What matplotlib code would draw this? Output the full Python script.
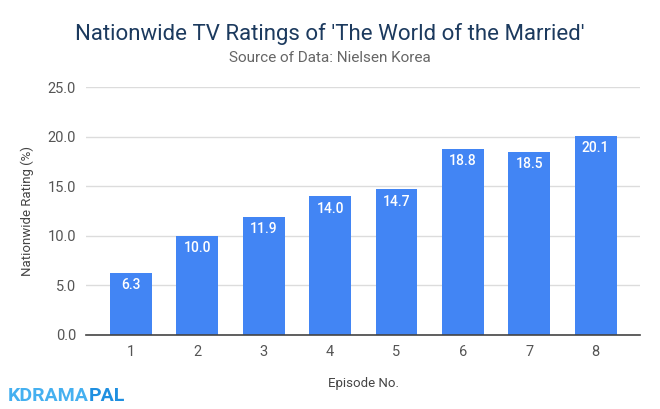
import matplotlib
matplotlib.use("Agg")
import matplotlib.pyplot as plt

plt.rcParams['font.family'] = ['Roboto', 'DejaVu Sans']

episodes = ['1', '2', '3', '4', '5', '6', '7', '8']
ratings = [6.3, 10.0, 11.9, 14.0, 14.7, 18.8, 18.5, 20.1]
yticks = [0, 5, 10, 15, 20, 25]

fig = plt.figure(figsize=(6.6, 4.09), dpi=100)
ax = fig.add_axes([0.130, 0.181, 0.840, 0.606])

x = list(range(len(episodes)))
bars = ax.bar(x, ratings, width=0.63, color='#4285f4', zorder=3)

for rect, val in zip(bars, ratings):
    ax.text(rect.get_x() + rect.get_width() / 2, val - 0.55, f"{val:.1f}",
            ha='center', va='top', color='white', fontsize=10, fontweight='medium', zorder=4)

ax.set_xlim(-0.68, 7.67)
ax.set_ylim(0, 25)
ax.set_yticks(yticks)
ax.set_yticklabels([f"{t:.1f}" for t in yticks])
ax.set_xticks(x)
ax.set_xticklabels(episodes)
ax.grid(axis='y', color='#dcdcdc', linewidth=1, zorder=0)
for s in ['top', 'right', 'left']:
    ax.spines[s].set_visible(False)
ax.spines['bottom'].set_color('#444444')
ax.spines['bottom'].set_linewidth(1.2)
ax.spines['bottom'].set_zorder(5)
ax.tick_params(axis='both', length=0, labelsize=10.5, labelcolor='#555555', pad=7)

ax.set_ylabel('Nationwide Rating (%)', fontsize=9.5, color='#444444', labelpad=10)
ax.set_xlabel('Episode No.', fontsize=9.5, color='#444444', labelpad=13)

fig.text(0.5, 0.918, "Nationwide TV Ratings of 'The World of the Married'",
         ha='center', va='center', fontsize=16, color='#1c3a5e')
fig.text(0.5, 0.857, "Source of Data: Nielsen Korea",
         ha='center', va='center', fontsize=11, color='#666666')

# logo
t1 = fig.text(0.012, 0.032, "KDRAMA", ha='left', va='center', fontsize=14,
              fontweight='bold', color='#45b0f0', fontstretch='condensed')
fig.canvas.draw()
bb = t1.get_window_extent()
x1 = fig.transFigure.inverted().transform((bb.x1, bb.y0))[0]
fig.text(x1, 0.032, "PAL", ha='left', va='center', fontsize=14,
         fontweight='bold', color='#1f8fe0')

fig.savefig('out.png', dpi=100)
